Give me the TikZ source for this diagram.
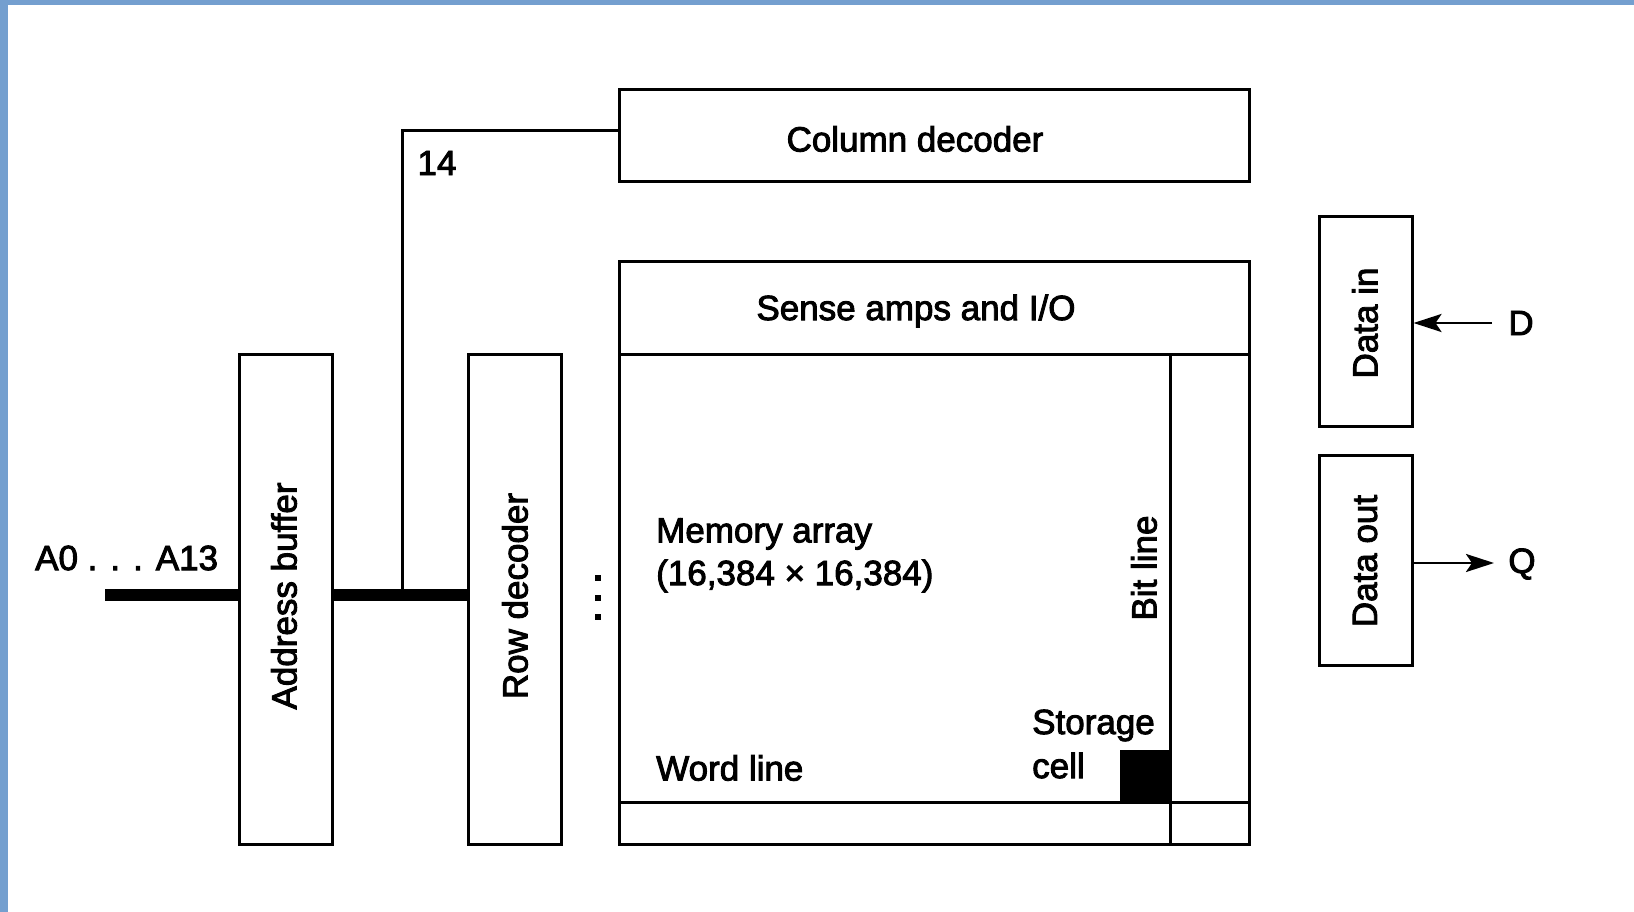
\documentclass[tikz,border=0pt]{standalone}
\usepackage{fontspec}
\setmainfont{Liberation Sans}[BoldFont={Liberation Sans}, BoldFeatures={FakeBold=2.6}]
\usetikzlibrary{arrows.meta}
\definecolor{frameblue}{RGB}{116,159,207}
\begin{document}
\begin{tikzpicture}[x=1pt,y=-1pt,
  box/.style={draw, line width=3pt, inner sep=0pt, rectangle},
  lbl/.style={font=\fontsize{35}{44}\selectfont\bfseries, inner sep=0pt},
  bus/.style={line width=12pt},
  wire/.style={line width=3pt},
  sig/.style={line width=2.8pt, -{Stealth[length=28pt,width=18pt,inset=6pt]}}]
\useasboundingbox (0,0) rectangle (1634,912);
\fill[white] (0,0) rectangle (1634,912);
\fill[frameblue] (0,0) rectangle (8,912);
\fill[frameblue] (0,0) rectangle (1634,5);
% boxes
\node[box, minimum width=630pt, minimum height=92pt] (coldec) at (934,136) {};
\node[box, minimum width=630pt, minimum height=92pt] (sense) at (934,308) {};
\node[box, minimum width=630pt, minimum height=490pt] (array) at (934,599) {};
\node[box, minimum width=93pt, minimum height=490pt] (ab) at (285.5,599) {};
\node[box, minimum width=93pt, minimum height=490pt] (rd) at (514.5,599) {};
\node[box, minimum width=93pt, minimum height=209pt] (din) at (1365.5,321.5) {};
\node[box, minimum width=93pt, minimum height=210pt] (dout) at (1365.5,560) {};
% array internals
\draw[wire] (1170,354) -- (1170,844);
\draw[wire] (619,802) -- (1249,802);
\fill (1120,750) rectangle (1170,802);
% dots
\foreach \yy in {578,598,617} \fill (595,\yy-3) rectangle (601,\yy+3);
% labels
\node[lbl] (tcol) at (915,139) {Column decoder};
\node[lbl] (tsense) at (916,311) {Sense amps and I/O};
\node[lbl, rotate=90] (tab) at (284,596) {Address buffer};
\node[lbl, rotate=90] (trd) at (515,596) {Row decoder};
\node[lbl, rotate=90] (tdin) at (1365,323) {Data in};
\node[lbl, rotate=90] (tdout) at (1365,561) {Data out};
\node[lbl, rotate=90] (tbit) at (1144,568) {Bit line};
\node[lbl, anchor=west] (tmem1) at (656,534) {Memory array};
\node[lbl, anchor=west] (tmem2) at (656,576) {(16,384 × 16,384)};
\node[lbl, anchor=west] (tword) at (656,768) {Word line};
\node[lbl, anchor=west, align=left] (tcell) at (1032,744) {Storage\\cell};
\node[lbl, anchor=west] (taddr) at (35,558) {A0 . . . A13};
\node[lbl] (t14) at (437,163) {14};
\node[lbl] (tD) at (1521,323) {D};
\node[lbl] (tQ) at (1522,564) {Q};
% connectors
\coordinate (ain) at (105,595);
\coordinate (tap) at (402,595);
\draw[bus] (ain) -- (ain -| ab.west);
\draw[bus] (ab.east |- ain) -- (rd.west |- ain);
\draw[wire] (tap) |- ([yshift=5pt]coldec.west);
\coordinate (dsrc) at (1492,323);
\coordinate (qdst) at (1494,563);
\draw[sig] (dsrc) -- (dsrc -| din.east);
\draw[sig] (dout.east |- qdst) -- (qdst);
\end{tikzpicture}
\end{document}
